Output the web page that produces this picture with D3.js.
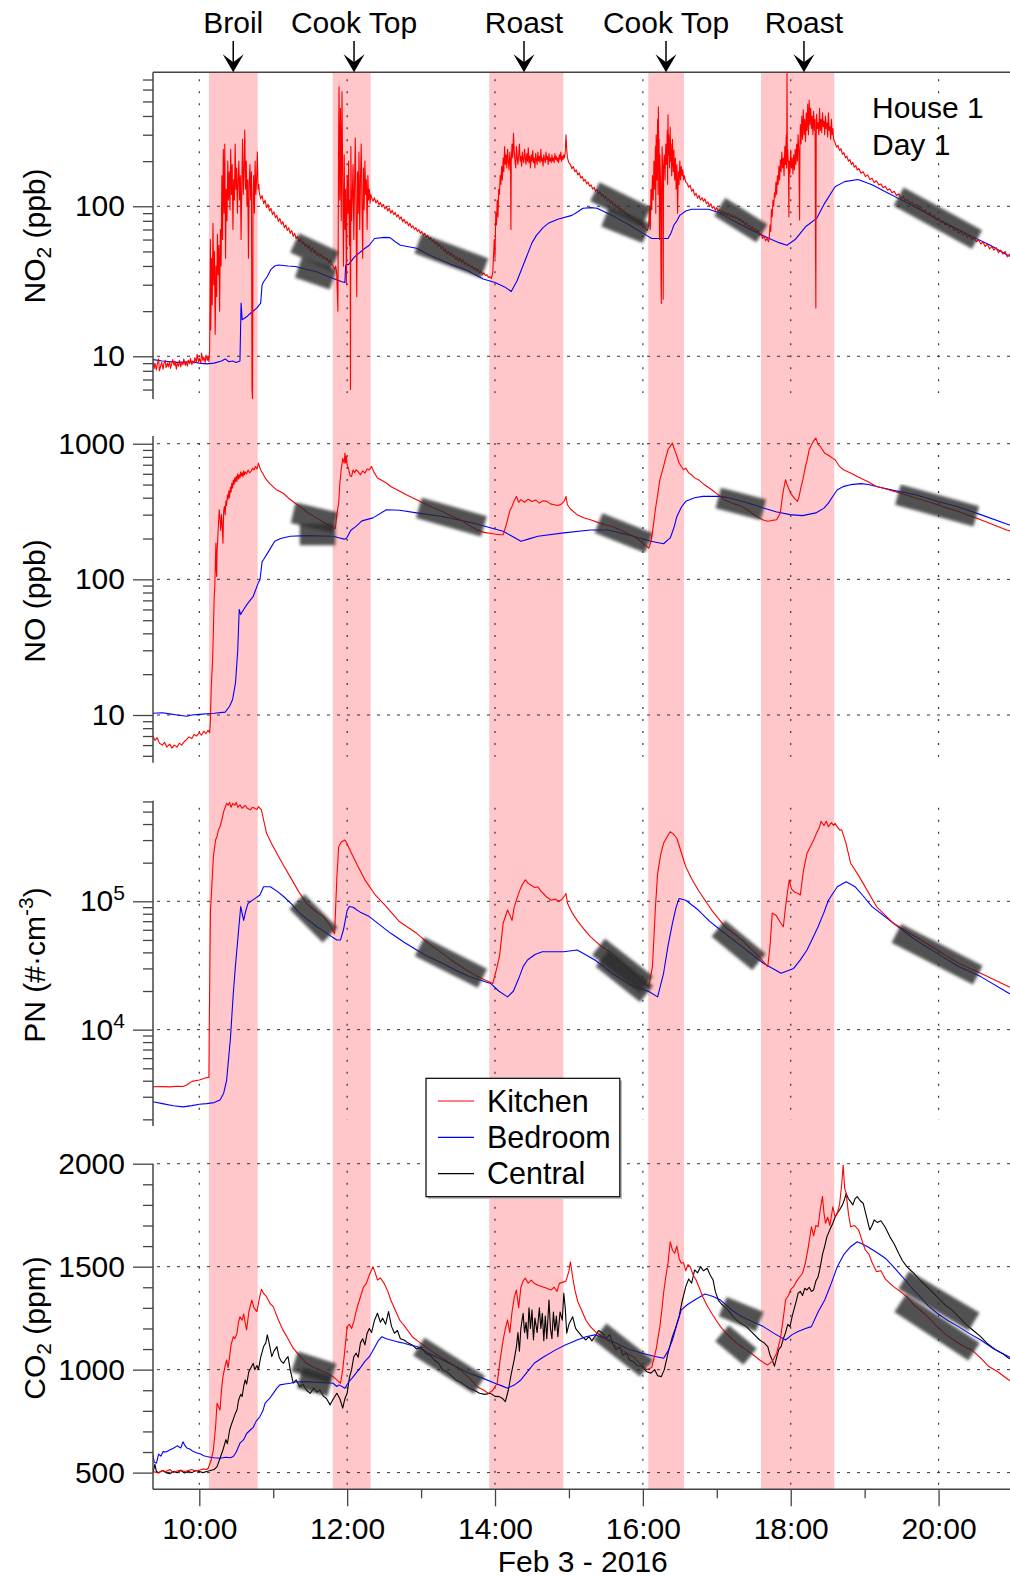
<!DOCTYPE html>
<html><head><meta charset="utf-8">
<script src="https://cdn.jsdelivr.net/npm/d3@7"></script>
<style>
body{margin:0;background:#fff;}
svg text{font-family:"Liberation Sans",Arial,Helvetica,sans-serif;fill:#000;}
</style></head><body>
<svg id="chart" width="1010" height="1578"></svg>
<script>
// ---------------- DATA ----------------
const timeDomain = [9.3737, 21];
const hourTicks = [10, 12, 14, 16, 18, 20];
const hourLabels = ["10:00", "12:00", "14:00", "16:00", "18:00", "20:00"];
const hourMinorTicks = [11, 13, 15, 17, 19];
const dateLabel = "Feb 3 - 2016";

const cookBands = [[10.131, 10.79], [11.804, 12.318], [13.923, 14.924], [16.073, 16.556], [17.598, 18.589]];
const eventLabels = ["Broil", "Cook Top", "Roast", "Cook Top", "Roast"];
const eventArrows = [10.459, 12.093, 14.392, 16.313, 18.179];

const seriesNames = ["Kitchen", "Bedroom", "Central"];
const seriesColors = ["#ff0000", "#0000ff", "#000000"];

const no2Ticks = [10, 100];
const noTicks = [10, 100, 1000];
const pnTicks = [10000, 100000];
const pnTickLabels = [["10", "4"], ["10", "5"]];
const co2Ticks = [500, 1000, 1500, 2000];

// NO2 (ppb)
const no2Kitchen = [[9.374,9.2],[9.39,8.3],[9.40,9.0],[9.42,8.1],[9.43,8.8],[9.45,9.6],[9.46,8.0],[9.48,8.7],[9.49,9.1],[9.51,8.2],[9.52,8.9],[9.54,9.4],[9.55,8.4],[9.57,9.0],[9.58,8.5],[9.60,9.2],[9.61,8.3],[9.63,9.0],[9.64,9.5],[9.66,8.7],[9.67,9.3],[9.69,8.2],[9.70,9.0],[9.72,8.6],[9.73,9.4],[9.75,8.5],[9.76,9.1],[9.78,8.8],[9.79,9.6],[9.81,8.7],[9.82,9.2],[9.84,8.6],[9.85,9.4],[9.87,8.9],[9.88,9.7],[9.90,8.8],[9.91,9.3],[9.93,9.0],[9.94,9.8],[9.96,9.1],[9.97,10.3],[9.99,9.2],[10.00,9.7],[10.02,9.0],[10.03,10.5],[10.05,9.3],[10.06,9.9],[10.08,9.1],[10.09,10.2],[10.11,9.4],[10.12,10.0],[10.13,9.2],
[10.140,11],[10.150,60],[10.155,15],[10.165,45],[10.175,22],[10.185,77],[10.195,30],[10.205,50],[10.215,14],[10.225,40],[10.235,25],[10.245,65],[10.255,35],[10.265,55],[10.275,20],[10.285,70],[10.295,40],[10.305,160],[10.315,60],[10.325,240],[10.335,90],[10.345,260],[10.355,45],[10.365,130],[10.375,80],[10.385,200],[10.395,110],[10.405,170],[10.415,95],[10.425,240],[10.435,120],[10.445,190],[10.455,70],[10.465,150],[10.475,110],[10.485,260],[10.495,130],[10.505,180],[10.515,90],[10.525,150],[10.535,200],[10.545,110],[10.555,160],[10.565,60],[10.575,140],[10.585,280],[10.595,120],[10.605,170],[10.615,322],[10.625,130],[10.635,200],[10.645,100],[10.655,150],[10.665,45],[10.675,140],[10.685,190],[10.695,110],[10.705,170],[10.713,6],[10.72,5.2],[10.727,120],[10.735,160],[10.745,90],[10.755,200],[10.765,120],[10.775,150],[10.785,230],[10.795,130],[10.805,140],
[10.81,125],[10.83,112],[10.85,118],[10.87,104],[10.89,110],[10.91,98],[10.93,103],[10.95,93],[10.97,97],[10.99,88],[11.01,92],[11.03,84],[11.05,87],[11.07,79],[11.09,83],[11.11,76],[11.13,79],[11.15,72],[11.17,75],[11.19,69],[11.21,72],[11.23,66],[11.25,69],[11.27,63],[11.29,66],[11.31,61],[11.33,63],[11.35,58],[11.37,61],[11.39,56],[11.41,58],[11.43,54],[11.45,56],[11.47,52],[11.49,55],[11.51,50],[11.53,53],[11.55,49],[11.57,51],[11.59,47],[11.61,49],[11.63,46],[11.65,48],[11.67,45],[11.69,46],[11.71,44],[11.73,45],[11.75,42],[11.77,44],[11.79,41],[11.81,40],[11.83,38],[11.845,40],[11.86,35],[11.875,20],
[11.885,300],[11.89,627],[11.90,110],[11.91,450],[11.92,80],[11.93,580],[11.94,150],[11.95,40],[11.96,220],[11.97,70],[11.98,130],[11.99,30],[12.00,160],[12.01,90],[12.02,200],[12.03,55],[12.04,110],[12.045,6],[12.05,250],[12.06,80],[12.07,120],[12.08,190],[12.09,60],[12.10,140],[12.11,285],[12.12,100],[12.13,25],[12.14,170],[12.15,90],[12.16,230],[12.17,70],[12.18,150],[12.19,260],[12.20,110],[12.21,45],[12.22,180],[12.23,95],[12.24,200],[12.25,120],[12.26,150],[12.27,70],[12.28,160],[12.29,110],[12.30,130],[12.31,105],[12.32,120],
[12.33,115],[12.35,108],[12.37,114],[12.39,105],[12.41,110],[12.43,102],[12.45,106],[12.47,99],[12.49,103],[12.51,96],[12.53,100],[12.55,93],[12.57,97],[12.59,90],[12.61,94],[12.63,88],[12.65,91],[12.67,85],[12.69,88],[12.71,82],[12.73,85],[12.75,79],[12.77,82],[12.79,77],[12.81,79],[12.83,74],[12.85,77],[12.87,72],[12.89,74],[12.91,70],[12.93,72],[12.95,68],[12.97,70],[12.99,66],[13.01,68],[13.03,64],[13.05,66],[13.07,62],[13.09,64],[13.11,60],[13.13,62],[13.15,58],[13.17,60],[13.19,56],[13.21,58],[13.23,54],[13.25,56],[13.27,52],[13.29,54],[13.31,50],[13.33,52],[13.35,48],[13.37,50],[13.39,47],[13.41,49],[13.43,46],[13.45,47],[13.47,44],[13.49,46],[13.51,43],[13.53,45],[13.55,42],[13.57,44],[13.59,41],[13.61,42],[13.63,40],[13.65,41],[13.67,39],[13.69,40],[13.71,38],[13.73,39],[13.75,37],[13.77,38],[13.79,36],[13.81,37],[13.83,35],[13.85,36],[13.87,34.5],[13.89,35],[13.91,33.5],[13.93,34],[13.95,33],
[13.97,36],[13.99,60],[14.00,45],[14.01,90],[14.02,75],[14.03,110],[14.04,85],[14.05,130],[14.06,120],[14.07,160],[14.08,140],[14.09,185],[14.10,150],[14.11,210],[14.12,170],[14.13,250],[14.14,190],[14.15,220],[14.16,180],[14.17,240],[14.18,200],[14.19,175],[14.20,230],[14.21,190],[14.215,70],[14.22,200],[14.23,260],[14.24,210],[14.25,306],[14.26,235],[14.27,200],[14.28,180],[14.29,250],[14.30,210],[14.31,190],[14.32,220],[14.33,260],[14.34,200],[14.35,215],[14.36,185],[14.37,230],[14.38,205],[14.39,195],[14.40,240],[14.41,210],[14.42,190],[14.43,225],[14.44,200],[14.45,245],[14.46,195],[14.47,215],[14.48,180],[14.49,220],[14.50,200],[14.51,235],[14.52,195],[14.53,210],[14.54,180],[14.55,225],[14.56,205],[14.57,190],[14.58,230],[14.59,200],[14.60,215],[14.61,195],[14.62,240],[14.63,200],[14.64,210],[14.65,185],[14.66,220],[14.67,205],[14.68,195],[14.69,230],[14.70,205],[14.71,215],[14.72,190],[14.73,225],[14.74,200],[14.75,210],[14.76,195],[14.77,220],[14.78,200],[14.79,210],[14.80,195],[14.81,225],[14.82,205],[14.83,215],[14.84,200],[14.85,210],[14.86,195],[14.87,220],[14.88,205],[14.89,230],[14.90,200],[14.91,215],[14.92,205],[14.93,220],[14.94,210],[14.95,230],[14.96,300],[14.97,240],[14.98,210],[15.00,195],
[15.02,190],[15.04,178],[15.06,184],[15.08,170],[15.10,175],[15.12,162],[15.14,167],[15.16,154],[15.18,158],[15.20,147],[15.22,151],[15.24,141],[15.26,145],[15.28,136],[15.30,139],[15.32,130],[15.34,134],[15.36,126],[15.38,129],[15.40,121],[15.42,125],[15.44,117],[15.46,120],[15.48,113],[15.50,116],[15.52,109],[15.54,112],[15.56,105],[15.58,108],[15.60,101],[15.62,104],[15.64,98],[15.66,100],[15.68,95],[15.70,97],[15.72,92],[15.74,94],[15.76,89],[15.78,91],[15.80,86],[15.82,88],[15.84,83],[15.86,85],[15.88,80],[15.90,82],[15.92,78],[15.94,79],[15.96,75],[15.98,77],[16.00,72],[16.02,74],[16.04,70],[16.06,69],
[16.08,75],[16.09,100],[16.10,70],[16.11,130],[16.12,95],[16.13,160],[16.14,110],[16.15,200],[16.16,130],[16.17,250],[16.175,90],[16.18,300],[16.19,150],[16.20,380],[16.205,120],[16.21,460],[16.215,200],[16.22,280],[16.225,60],[16.23,220],[16.24,140],[16.245,35],[16.25,22.5],[16.255,120],[16.26,250],[16.27,160],[16.275,24],[16.28,180],[16.29,220],[16.30,150],[16.31,260],[16.32,190],[16.33,320],[16.335,140],[16.34,407],[16.345,220],[16.35,300],[16.36,180],[16.37,337],[16.375,200],[16.38,260],[16.39,160],[16.40,280],[16.41,170],[16.42,237],[16.43,150],[16.44,210],[16.45,130],[16.46,190],[16.47,90],[16.48,170],[16.49,140],[16.50,200],[16.51,150],[16.52,185],[16.53,160],[16.54,175],[16.55,150],[16.56,160],[16.58,145],
[16.60,142],[16.62,134],[16.64,138],[16.66,126],[16.68,130],[16.70,118],[16.72,122],[16.74,113],[16.76,118],[16.78,110],[16.80,114],[16.82,108],[16.84,112],[16.86,104],[16.88,107],[16.90,100],[16.92,104],[16.94,97],[16.96,100],[16.98,94],[17.00,98],[17.02,92],[17.04,95],[17.06,90],[17.08,93],[17.10,88],[17.12,91],[17.14,87],[17.16,90],[17.18,85],[17.20,88],[17.22,84],[17.24,87],[17.26,82],[17.28,85],[17.30,80],[17.32,83],[17.34,78],[17.36,80],[17.38,75],[17.40,78],[17.42,73],[17.44,75],[17.46,71],[17.48,73],[17.50,69],[17.52,71],[17.54,67],[17.56,69],[17.58,64],[17.60,66],[17.62,61],[17.64,63],[17.66,59],[17.68,61],[17.70,58],
[17.71,62],[17.72,75],[17.73,68],[17.74,95],[17.75,85],[17.76,110],[17.77,100],[17.78,123],[17.79,115],[17.80,145],[17.81,120],[17.82,160],[17.83,140],[17.84,185],[17.85,150],[17.86,204],[17.87,170],[17.88,230],[17.89,180],[17.90,210],[17.91,160],[17.92,250],[17.93,190],[17.94,300],[17.945,180],[17.95,780],[17.955,200],[17.96,240],[17.97,170],[17.975,85],[17.98,200],[17.99,165],[18.00,237],[18.01,180],[18.02,210],[18.03,164],[18.04,220],[18.05,175],[18.06,240],[18.07,190],[18.08,260],[18.09,200],[18.10,300],[18.11,230],[18.12,81],[18.125,250],[18.13,350],[18.14,260],[18.15,400],[18.16,280],[18.17,439],[18.18,300],[18.19,380],[18.20,270],[18.21,420],[18.22,320],[18.23,480],[18.24,300],[18.25,510],[18.26,350],[18.27,450],[18.28,330],[18.29,400],[18.30,300],[18.31,430],[18.32,320],[18.33,380],[18.335,60],[18.34,21],[18.345,290],[18.35,410],[18.36,330],[18.37,360],[18.38,300],[18.39,450],[18.40,320],[18.41,380],[18.42,310],[18.43,420],[18.44,340],[18.45,370],[18.46,300],[18.47,400],[18.48,330],[18.49,360],[18.50,290],[18.51,420],[18.52,320],[18.53,340],[18.54,280],[18.55,380],[18.56,300],[18.57,330],[18.58,280],
[18.60,265],[18.62,248],[18.64,255],[18.66,236],[18.68,242],[18.70,222],[18.72,228],[18.74,210],[18.76,216],[18.78,200],[18.80,205],[18.82,190],[18.84,196],[18.86,182],[18.88,187],[18.90,174],[18.92,179],[18.95,166],[18.98,170],[19.01,158],[19.04,162],[19.07,151],[19.10,154],[19.13,144],[19.16,148],[19.19,139],[19.22,141],[19.25,133],[19.28,136],[19.31,128],[19.34,131],[19.37,123],[19.40,126],[19.43,118],[19.46,121],[19.49,113],[19.52,116],[19.55,109],[19.58,111],[19.61,104],[19.64,107],[19.67,100],[19.70,103],[19.73,96],[19.76,99],[19.79,92],[19.82,95],[19.85,88],[19.88,91],[19.91,85],[19.94,87],[19.97,81],[20.00,84],[20.03,78],[20.06,80],[20.09,75],[20.12,77],[20.15,72],[20.18,74],[20.21,69],[20.24,71],[20.27,66],[20.30,68],[20.33,64],[20.36,66],[20.39,62],[20.42,64],[20.45,60],[20.48,62],[20.51,58],[20.54,60],[20.57,56],[20.60,58],[20.63,54],[20.66,56],[20.69,52],[20.72,54],[20.75,51],[20.78,53],[20.81,49],[20.84,51],[20.87,48],[20.90,50],[20.93,46],[20.96,48],[21.00,46]];

const no2Bedroom = [[9.374,9.5],[9.5,9.3],[9.7,9.1],[9.9,9.2],[10.0,9.0],[10.1,8.9],[10.2,9.0],[10.3,9.3],[10.35,9.6],[10.4,9.2],[10.45,9.3],[10.5,9.1],[10.55,9.3],[10.565,22.6],[10.58,17.5],[10.65,18.5],[10.70,19.5],[10.78,21],[10.83,22.6],[10.85,30],[10.87,31.4],[10.92,34],[10.97,38],[11.02,40],[11.07,40.6],[11.2,40],[11.3,39.7],[11.5,37.5],[11.6,36.5],[11.74,34],[11.85,32.5],[11.93,31.4],[11.97,31],[11.98,40.6],[12.02,41],[12.1,46],[12.24,52.5],[12.3,55],[12.37,61],[12.5,62],[12.58,61.8],[12.65,58],[12.72,55],[12.94,52.5],[13.16,46],[13.4,41],[13.62,37.5],[13.84,32.7],[14.0,31],[14.13,29],[14.22,27],[14.3,32],[14.41,44],[14.5,57],[14.56,64],[14.65,72],[14.72,77],[14.85,82],[15.04,87],[15.12,92],[15.19,97],[15.3,98],[15.38,97],[15.5,91],[15.62,85],[15.8,76],[15.94,69],[16.05,64],[16.12,61],[16.34,61],[16.38,66],[16.42,75],[16.46,80],[16.5,87],[16.58,93],[16.66,95.5],[16.89,95.5],[17.02,91],[17.15,84],[17.29,77],[17.45,70],[17.56,66],[17.74,60],[17.85,57],[17.95,55],[18.06,60],[18.2,73],[18.35,83],[18.46,105],[18.6,135],[18.73,146],[18.91,151],[19.1,139],[19.32,122],[19.55,107],[19.78,93],[20.0,81],[20.22,72],[20.45,63],[20.7,55],[20.94,47],[21.0,46]];

// NO (ppb)
const noKitchen = [[9.374,7.0],[9.40,6.5],[9.43,6.8],[9.46,6.2],[9.50,6.0],[9.53,6.3],[9.56,5.8],[9.60,6.1],[9.63,5.7],[9.66,6.0],[9.70,5.8],[9.73,6.2],[9.76,6.0],[9.80,6.4],[9.83,6.6],[9.86,6.9],[9.90,6.7],[9.93,7.2],[9.96,7.0],[10.0,7.4],[10.03,7.1],[10.06,7.6],[10.09,7.3],[10.12,7.7],[10.14,7.4],[10.15,9],[10.16,15],[10.17,20],[10.18,25.6],[10.19,40],[10.2,70],[10.21,90],[10.22,150],[10.225,185],[10.23,120],[10.235,105],[10.24,160],[10.25,200],[10.26,260],[10.27,326],[10.28,280],[10.29,230],[10.30,300],[10.31,250],[10.32,185],[10.33,320],[10.34,345],[10.35,300],[10.36,380],[10.37,350],[10.38,420],[10.39,390],[10.40,450],[10.41,400],[10.42,480],[10.43,440],[10.44,512],[10.45,470],[10.46,540],[10.47,500],[10.48,560],[10.49,520],[10.50,574],[10.51,530],[10.52,600],[10.53,550],[10.54,590],[10.55,560],[10.56,620],[10.57,580],[10.58,610],[10.59,570],[10.60,630],[10.61,590],[10.62,620],[10.64,600],[10.66,640],[10.68,610],[10.70,625],[10.72,660],[10.74,640],[10.76,680],[10.78,650],[10.80,720],[10.81,690],[10.83,640],[10.86,600],[10.9,550],[10.95,510],[11.0,480],[11.05,455],[11.13,433],[11.2,400],[11.28,370],[11.36,345],[11.45,315],[11.58,284],[11.7,260],[11.81,240],[11.84,237],[11.86,300],[11.885,365],[11.9,500],[11.92,650],[11.94,780],[11.96,720],[11.97,852],[11.98,720],[11.99,808],[12.0,700],[12.02,650],[12.04,580],[12.06,574],[12.08,640],[12.10,610],[12.12,643],[12.15,620],[12.18,590],[12.21,630],[12.24,608],[12.27,650],[12.30,640],[12.33,680],[12.36,620],[12.41,559],[12.46,540],[12.53,513],[12.6,480],[12.7,450],[12.8,420],[12.94,387],[13.1,350],[13.29,316],[13.4,295],[13.53,275],[13.65,250],[13.76,231],[13.85,222],[13.95,218],[14.05,213],[14.11,213],[14.14,240],[14.17,275],[14.2,320],[14.23,345],[14.26,380],[14.29,409],[14.32,370],[14.35,387],[14.4,370],[14.45,390],[14.5,375],[14.55,385],[14.6,365],[14.65,380],[14.70,376],[14.75,360],[14.8,355],[14.85,350],[14.9,360],[14.94,380],[14.96,409],[14.98,355],[15.02,330],[15.11,300],[15.2,285],[15.29,275],[15.4,262],[15.5,252],[15.58,246],[15.7,230],[15.8,218],[15.87,208],[15.95,195],[16.02,180],[16.08,170],[16.11,190],[16.14,246],[16.17,330],[16.2,420],[16.23,543],[16.26,620],[16.28,680],[16.31,790],[16.34,903],[16.37,960],[16.40,1010],[16.42,930],[16.44,870],[16.46,808],[16.49,720],[16.52,680],[16.55,643],[16.58,661],[16.62,610],[16.66,590],[16.70,560],[16.75,543],[16.83,500],[16.93,458],[17.02,420],[17.10,387],[17.2,365],[17.34,345],[17.45,315],[17.54,291],[17.62,275],[17.69,268],[17.75,272],[17.81,275],[17.86,310],[17.88,380],[17.9,450],[17.93,543],[17.95,500],[17.98,458],[18.0,430],[18.03,409],[18.06,390],[18.09,376],[18.11,400],[18.14,480],[18.17,560],[18.2,680],[18.22,750],[18.25,903],[18.28,980],[18.31,1050],[18.34,1100],[18.37,990],[18.40,955],[18.43,900],[18.46,852],[18.5,830],[18.53,808],[18.57,780],[18.6,762],[18.63,720],[18.66,680],[18.72,640],[18.81,608],[18.92,565],[19.04,527],[19.16,484],[19.28,465],[19.39,446],[19.55,420],[19.69,398],[19.85,375],[19.98,355],[20.12,335],[20.27,316],[20.42,295],[20.57,275],[20.75,252],[20.92,231],[21.0,225]];

const noBedroom = [[9.374,10.3],[9.5,10.4],[9.6,10.2],[9.7,10.0],[9.83,9.8],[9.9,10.0],[10.0,10.1],[10.2,10.3],[10.35,10.5],[10.41,11.6],[10.45,13],[10.49,17.3],[10.52,30],[10.54,60],[10.56,55],[10.6,60],[10.65,66],[10.73,75],[10.8,95],[10.82,99],[10.85,135],[10.87,140],[10.95,165],[11.02,191],[11.1,200],[11.23,208],[11.45,210],[11.81,208],[11.9,202],[11.96,198],[11.99,200],[12.05,230],[12.12,246],[12.2,270],[12.35,284],[12.53,326],[12.71,323],[12.94,309],[13.29,291],[13.7,260],[14.11,226],[14.25,205],[14.35,191],[14.45,198],[14.58,208],[14.93,220],[15.29,231],[15.52,231],[15.7,220],[15.87,208],[16.11,191],[16.28,183],[16.37,202],[16.42,240],[16.46,291],[16.52,340],[16.58,376],[16.7,400],[16.81,409],[17.05,409],[17.2,395],[17.34,376],[17.5,355],[17.63,336],[17.8,315],[17.99,300],[18.16,295],[18.34,309],[18.45,335],[18.51,365],[18.57,410],[18.63,458],[18.72,485],[18.81,499],[18.95,508],[19.05,500],[19.16,484],[19.39,453],[19.69,421],[19.98,376],[20.27,342],[20.57,300],[20.95,253],[21.0,248]];

// PN (#/cm3)
const pnKitchen = [[9.374,3590],[9.5,3600],[9.6,3580],[9.7,3620],[9.78,3610],[9.83,3700],[9.9,3950],[10.0,4050],[10.1,4230],[10.13,4250],[10.135,10700],[10.15,80600],[10.19,222000],[10.22,300000],[10.24,320000],[10.26,360000],[10.28,381000],[10.3,420000],[10.33,500000],[10.37,580000],[10.39,560000],[10.41,590000],[10.43,540000],[10.45,580000],[10.48,560000],[10.5,590000],[10.52,540000],[10.55,565000],[10.58,530000],[10.62,560000],[10.65,530000],[10.69,516000],[10.72,540000],[10.75,530000],[10.78,520000],[10.8,546000],[10.84,516000],[10.87,430000],[10.91,339000],[10.98,280000],[11.05,236000],[11.14,190000],[11.23,155000],[11.34,120000],[11.45,96500],[11.57,84000],[11.68,76000],[11.77,65000],[11.83,56000],[11.86,150000],[11.885,266000],[11.92,290000],[11.97,300000],[12.0,280000],[12.06,236000],[12.15,185000],[12.24,147000],[12.38,112000],[12.53,91000],[12.7,70000],[12.94,56300],[13.1,47000],[13.29,39300],[13.45,33500],[13.65,28300],[13.82,25000],[13.97,22900],[14.01,28000],[14.06,37000],[14.11,67400],[14.17,85500],[14.2,78000],[14.23,71000],[14.26,90000],[14.29,102000],[14.33,120000],[14.37,135000],[14.41,147000],[14.45,138000],[14.5,132000],[14.54,128000],[14.58,130000],[14.62,120000],[14.66,114000],[14.7,108000],[14.76,102000],[14.82,104000],[14.86,100000],[14.9,103000],[14.94,110000],[14.96,115000],[14.98,96500],[15.04,82000],[15.11,71000],[15.2,61000],[15.29,53000],[15.43,45000],[15.58,39300],[15.72,33000],[15.87,27500],[15.98,24000],[16.08,21600],[16.13,31000],[16.17,90000],[16.2,165000],[16.24,230000],[16.28,283000],[16.33,320000],[16.37,348000],[16.41,335000],[16.46,310000],[16.52,240000],[16.58,186000],[16.66,150000],[16.75,122000],[16.93,85500],[17.11,63400],[17.34,50000],[17.57,37000],[17.69,31000],[17.72,45000],[17.75,80600],[17.8,78000],[17.85,70000],[17.9,63400],[17.93,90000],[17.96,122000],[17.98,147000],[18.01,125000],[18.05,118000],[18.1,115000],[18.13,112000],[18.17,170000],[18.22,236000],[18.27,270000],[18.31,300000],[18.35,340000],[18.39,380000],[18.41,420000],[18.43,405000],[18.45,390000],[18.48,420000],[18.51,381000],[18.55,410000],[18.58,390000],[18.6,405000],[18.63,380000],[18.66,360000],[18.69,360000],[18.75,280000],[18.81,198000],[18.9,165000],[18.98,138000],[19.16,91000],[19.39,67400],[19.69,53000],[19.98,41700],[20.27,32900],[20.57,27500],[20.95,21600],[21.0,21000]];

const pnBedroom = [[9.374,2740],[9.5,2650],[9.65,2550],[9.78,2500],[9.9,2560],[10.0,2620],[10.1,2650],[10.2,2700],[10.28,2830],[10.33,3200],[10.37,4050],[10.42,8400],[10.46,19200],[10.49,32000],[10.52,50000],[10.56,91000],[10.6,71000],[10.63,85000],[10.66,96500],[10.75,105000],[10.82,112000],[10.87,130000],[10.96,130000],[11.05,120000],[11.14,109000],[11.25,95000],[11.36,80600],[11.48,71000],[11.59,63400],[11.75,55000],[11.86,50000],[11.91,50000],[11.95,60000],[12.0,85000],[12.03,91000],[12.08,90000],[12.18,82000],[12.3,76000],[12.45,65000],[12.59,56300],[12.77,48000],[12.94,41700],[13.1,37000],[13.29,32900],[13.47,29000],[13.65,25900],[13.94,22900],[14.05,20000],[14.17,18000],[14.25,20000],[14.32,25000],[14.38,31000],[14.44,34900],[14.54,38500],[14.64,40500],[14.93,40500],[15.11,41700],[15.22,38500],[15.35,34900],[15.47,31000],[15.58,27500],[15.72,24500],[15.87,21600],[16.08,19800],[16.2,18000],[16.28,27500],[16.34,45000],[16.4,67400],[16.45,90000],[16.49,105000],[16.58,102000],[16.75,85500],[16.9,70000],[17.05,59800],[17.34,44300],[17.63,32900],[17.87,27500],[18.04,30000],[18.13,35000],[18.22,41700],[18.3,52000],[18.37,63400],[18.45,82000],[18.51,102000],[18.63,130000],[18.75,142000],[18.87,130000],[18.98,110000],[19.1,91000],[19.39,67400],[19.69,50000],[19.98,39300],[20.27,31000],[20.57,25900],[20.95,19200],[21.0,18800]];

// CO2 (ppm)
const co2Kitchen = [[9.374,505],[9.45,498],[9.5,510],[9.55,505],[9.6,515],[9.65,500],[9.7,508],[9.75,512],[9.8,505],[9.85,510],[9.9,515],[9.95,508],[10.0,512],[10.05,518],[10.1,515],[10.12,521],[10.16,560],[10.19,610],[10.22,720],[10.24,837],[10.26,820],[10.28,804],[10.3,900],[10.32,966],[10.35,1020],[10.37,1047],[10.39,1010],[10.41,1063],[10.43,1120],[10.46,1160],[10.48,1150],[10.51,1177],[10.53,1230],[10.55,1257],[10.58,1240],[10.6,1270],[10.62,1230],[10.64,1193],[10.67,1280],[10.71,1338],[10.74,1300],[10.78,1282],[10.81,1340],[10.84,1390],[10.87,1370],[10.91,1354],[10.96,1320],[11.0,1306],[11.06,1250],[11.13,1193],[11.2,1150],[11.27,1104],[11.35,1070],[11.45,1031],[11.55,1010],[11.63,999],[11.72,985],[11.81,966],[11.86,950],[11.91,934],[11.94,1000],[11.97,1100],[12.0,1209],[12.03,1220],[12.06,1200],[12.09,1233],[12.12,1280],[12.15,1320],[12.18,1354],[12.22,1400],[12.26,1419],[12.3,1460],[12.35,1500],[12.38,1470],[12.41,1435],[12.45,1445],[12.5,1419],[12.55,1380],[12.59,1338],[12.65,1290],[12.71,1241],[12.8,1200],[12.88,1160],[12.97,1135],[13.06,1112],[13.18,1080],[13.29,1055],[13.4,1030],[13.53,999],[13.65,960],[13.76,917],[13.85,900],[13.91,885],[13.97,900],[14.03,934],[14.07,1050],[14.11,1144],[14.14,1200],[14.17,1241],[14.2,1180],[14.23,1280],[14.26,1350],[14.29,1387],[14.32,1300],[14.35,1400],[14.38,1430],[14.41,1444],[14.45,1420],[14.49,1435],[14.53,1419],[14.58,1410],[14.64,1403],[14.7,1395],[14.76,1387],[14.8,1400],[14.84,1380],[14.87,1419],[14.92,1425],[14.96,1430],[15.0,1480],[15.02,1524],[15.05,1450],[15.08,1387],[15.12,1330],[15.17,1290],[15.23,1240],[15.29,1209],[15.37,1180],[15.46,1160],[15.55,1135],[15.64,1112],[15.76,1085],[15.87,1063],[15.96,1030],[16.05,999],[16.12,1010],[16.18,1100],[16.23,1209],[16.26,1300],[16.28,1371],[16.31,1450],[16.34,1517],[16.37,1621],[16.40,1580],[16.43,1565],[16.46,1600],[16.49,1540],[16.52,1517],[16.55,1520],[16.58,1480],[16.61,1510],[16.64,1500],[16.68,1460],[16.72,1435],[16.76,1400],[16.81,1354],[16.87,1310],[16.93,1274],[17.0,1235],[17.05,1209],[17.13,1175],[17.22,1144],[17.3,1120],[17.4,1096],[17.5,1070],[17.58,1047],[17.65,1030],[17.69,1023],[17.75,1040],[17.81,1080],[17.86,1150],[17.9,1250],[17.93,1338],[17.97,1360],[18.0,1390],[18.04,1403],[18.08,1430],[18.12,1450],[18.16,1468],[18.2,1520],[18.24,1600],[18.28,1694],[18.31,1650],[18.34,1700],[18.37,1694],[18.4,1780],[18.43,1840],[18.45,1760],[18.47,1711],[18.5,1740],[18.53,1700],[18.57,1791],[18.6,1740],[18.63,1760],[18.66,1800],[18.69,1900],[18.71,1994],[18.73,1880],[18.75,1856],[18.78,1760],[18.81,1694],[18.86,1700],[18.92,1678],[18.97,1620],[19.01,1581],[19.06,1560],[19.1,1520],[19.16,1476],[19.22,1480],[19.28,1440],[19.39,1403],[19.48,1380],[19.57,1354],[19.68,1310],[19.8,1274],[19.9,1240],[19.98,1209],[20.1,1170],[20.27,1128],[20.36,1110],[20.45,1096],[20.56,1060],[20.68,1015],[20.8,990],[20.95,950],[21.0,940]];

const co2Bedroom = [[9.374,586],[9.39,550],[9.42,546],[9.45,590],[9.48,580],[9.51,602],[9.55,600],[9.6,610],[9.65,618],[9.7,630],[9.75,620],[9.78,650],[9.8,635],[9.83,620],[9.87,615],[9.92,602],[9.97,595],[10.02,590],[10.06,582],[10.1,578],[10.15,575],[10.2,572],[10.28,570],[10.36,575],[10.42,572],[10.46,578],[10.5,600],[10.55,643],[10.6,660],[10.64,690],[10.69,707],[10.73,720],[10.77,750],[10.82,772],[10.86,800],[10.89,837],[10.95,860],[11.0,885],[11.05,910],[11.09,926],[11.16,930],[11.23,934],[11.3,940],[11.45,942],[11.6,938],[11.75,936],[11.81,934],[11.86,918],[11.89,926],[11.97,910],[12.02,940],[12.07,960],[12.12,983],[12.18,1010],[12.24,1040],[12.3,1063],[12.36,1100],[12.42,1140],[12.47,1160],[12.53,1150],[12.59,1144],[12.68,1135],[12.77,1128],[12.85,1120],[12.94,1112],[13.1,1080],[13.29,1047],[13.47,1015],[13.65,983],[13.82,960],[14.0,934],[14.1,920],[14.17,910],[14.26,925],[14.35,950],[14.44,990],[14.53,1031],[14.65,1060],[14.82,1096],[14.95,1120],[15.11,1144],[15.23,1160],[15.35,1169],[15.5,1150],[15.64,1128],[15.8,1100],[15.99,1080],[16.15,1065],[16.28,1055],[16.34,1090],[16.4,1144],[16.46,1220],[16.52,1290],[16.6,1315],[16.7,1338],[16.84,1367],[16.95,1355],[17.05,1338],[17.2,1290],[17.34,1257],[17.5,1230],[17.63,1209],[17.78,1175],[17.93,1144],[18.02,1170],[18.1,1185],[18.2,1200],[18.28,1209],[18.37,1280],[18.46,1338],[18.55,1420],[18.63,1500],[18.72,1560],[18.81,1597],[18.9,1621],[18.97,1610],[19.04,1597],[19.16,1570],[19.28,1541],[19.4,1495],[19.51,1451],[19.63,1400],[19.75,1354],[19.86,1310],[19.98,1274],[20.12,1240],[20.27,1209],[20.42,1175],[20.57,1144],[20.75,1100],[20.95,1063],[21.0,1055]];

const co2Central = [[9.374,500],[9.4,540],[9.42,505],[9.45,500],[9.5,510],[9.55,500],[9.6,495],[9.65,505],[9.7,500],[9.75,510],[9.8,498],[9.85,505],[9.9,500],[9.95,510],[10.0,505],[10.05,500],[10.1,505],[10.15,510],[10.2,515],[10.24,529],[10.28,570],[10.32,610],[10.36,660],[10.38,640],[10.41,707],[10.44,740],[10.46,760],[10.49,790],[10.51,804],[10.53,850],[10.56,880],[10.58,870],[10.6,917],[10.62,950],[10.64,930],[10.67,990],[10.7,1010],[10.73,1031],[10.75,1000],[10.78,1020],[10.8,1000],[10.83,1060],[10.87,1112],[10.9,1130],[10.92,1169],[10.95,1120],[10.98,1063],[11.01,1090],[11.05,1112],[11.08,1060],[11.11,1040],[11.14,1031],[11.17,1050],[11.2,1063],[11.23,1000],[11.27,934],[11.31,950],[11.36,917],[11.4,930],[11.45,900],[11.5,885],[11.55,910],[11.59,890],[11.63,901],[11.68,870],[11.72,860],[11.77,829],[11.8,850],[11.86,885],[11.9,860],[11.94,813],[11.97,860],[12.0,885],[12.03,960],[12.06,1000],[12.09,1063],[12.12,1080],[12.15,1060],[12.18,1130],[12.21,1150],[12.24,1120],[12.27,1177],[12.3,1200],[12.33,1180],[12.37,1240],[12.41,1274],[12.45,1230],[12.48,1250],[12.52,1220],[12.56,1282],[12.6,1210],[12.64,1177],[12.68,1190],[12.72,1150],[12.77,1144],[12.82,1130],[12.88,1120],[12.94,1100],[13.0,1110],[13.06,1080],[13.12,1070],[13.18,1047],[13.24,1030],[13.29,999],[13.35,990],[13.41,970],[13.47,950],[13.53,940],[13.59,925],[13.65,910],[13.72,900],[13.79,885],[13.86,880],[13.94,885],[14.0,870],[14.06,869],[14.1,860],[14.14,845],[14.18,900],[14.22,980],[14.26,1050],[14.29,1112],[14.31,1180],[14.33,1090],[14.35,1200],[14.38,1274],[14.4,1180],[14.42,1230],[14.44,1150],[14.46,1300],[14.48,1200],[14.5,1290],[14.52,1144],[14.54,1250],[14.57,1180],[14.6,1300],[14.62,1200],[14.64,1274],[14.66,1140],[14.68,1260],[14.7,1150],[14.73,1338],[14.75,1200],[14.77,1150],[14.79,1280],[14.81,1190],[14.83,1260],[14.85,1160],[14.88,1280],[14.91,1240],[14.93,1371],[14.95,1300],[14.97,1177],[15.0,1220],[15.05,1257],[15.09,1200],[15.14,1177],[15.18,1160],[15.23,1144],[15.27,1160],[15.31,1140],[15.35,1160],[15.4,1190],[15.46,1177],[15.5,1150],[15.55,1170],[15.6,1120],[15.64,1096],[15.69,1110],[15.73,1070],[15.78,1080],[15.82,1047],[15.87,1040],[15.92,1020],[15.99,1015],[16.05,990],[16.11,983],[16.16,1000],[16.2,970],[16.25,966],[16.29,1000],[16.34,1080],[16.37,1120],[16.4,1160],[16.44,1200],[16.49,1257],[16.53,1330],[16.58,1403],[16.62,1440],[16.66,1420],[16.7,1484],[16.74,1470],[16.78,1500],[16.82,1480],[16.87,1492],[16.91,1460],[16.95,1435],[16.98,1380],[17.02,1338],[17.06,1320],[17.1,1306],[17.15,1290],[17.22,1257],[17.3,1230],[17.4,1209],[17.48,1180],[17.58,1144],[17.64,1130],[17.69,1112],[17.72,1070],[17.75,1047],[17.78,1017],[17.81,1060],[17.84,1100],[17.87,1112],[17.9,1150],[17.93,1180],[17.96,1220],[17.99,1209],[18.02,1260],[18.05,1300],[18.08,1340],[18.1,1371],[18.13,1380],[18.16,1360],[18.19,1395],[18.22,1387],[18.25,1400],[18.28,1380],[18.31,1387],[18.34,1430],[18.37,1450],[18.4,1500],[18.43,1560],[18.46,1600],[18.49,1646],[18.53,1680],[18.57,1711],[18.6,1740],[18.63,1760],[18.66,1775],[18.7,1800],[18.73,1830],[18.75,1856],[18.78,1830],[18.81,1816],[18.84,1800],[18.87,1830],[18.9,1840],[18.94,1820],[18.98,1808],[19.02,1750],[19.07,1678],[19.1,1700],[19.13,1727],[19.17,1715],[19.22,1723],[19.28,1690],[19.34,1646],[19.4,1610],[19.46,1565],[19.51,1530],[19.57,1500],[19.66,1470],[19.75,1435],[19.85,1400],[19.98,1354],[20.1,1310],[20.18,1290],[20.27,1257],[20.37,1220],[20.47,1190],[20.57,1160],[20.65,1130],[20.72,1110],[20.8,1090],[20.88,1075],[20.95,1055],[21.0,1050]];

// Decay-fit bands [t0, v0, t1, v1]
const no2Fits = [[11.29,57,11.83,43],[11.34,39,11.81,32.5],[12.96,56.6,13.86,38.6],[15.35,125,16.05,85],[15.49,85,16.05,66],[17.04,99,17.61,66],[19.46,116,20.52,60]];
const noFits = [[11.27,310,11.84,262],[11.36,213,11.84,213],[12.97,336,13.85,246],[15.40,260,16.08,185],[17.02,398,17.63,326],[19.45,421,20.51,291]];
const pnFits = [[11.32,99300,11.77,54600],[12.98,44300,13.83,25100],[15.40,44000,16.05,22500],[15.45,36000,16.05,19000],[17.02,61600,17.57,33700],[19.43,56300,20.53,26600]];
const co2Fits = [[11.29,1040,11.81,980],[11.36,960,11.77,920],[12.97,1112,13.79,926],[15.42,1184,16.05,1007],[17.08,1306,17.58,1233],[17.07,1177,17.45,1063],[19.53,1435,20.48,1233],[19.48,1322,20.48,1087]];

// ---------------- CHART ----------------
const FS = 30;
const svg = d3.select("#chart");
const X0 = 153, X1 = 1012.5, TOP = 72.3, BOTTOM = 1489.3;
const x = d3.scaleLinear().domain(timeDomain).range([X0, X1]);

const defs = svg.append("defs");
defs.append("filter").attr("id", "soft").attr("x", "-20%").attr("y", "-20%").attr("width", "140%").attr("height", "140%")
  .append("feGaussianBlur").attr("stdDeviation", 1.4);

// cooking bands
svg.append("g").selectAll("rect").data(cookBands).join("rect")
  .attr("x", d => x(d[0])).attr("width", d => x(d[1]) - x(d[0]))
  .attr("y", TOP).attr("height", BOTTOM - TOP)
  .attr("fill", "#ffc7ca");

const panels = [
  {y: d3.scaleLog().domain([5.19, 782]).range([399, 72.3]), ticks: no2Ticks, series: [no2Kitchen, no2Bedroom], fits: no2Fits, label: [["NO",0],["2",1],[" (ppb)",3]], labelY: 236},
  {y: d3.scaleLog().domain([4.45, 1140]).range([762.7, 436]), ticks: noTicks, series: [noKitchen, noBedroom], fits: noFits, label: [["NO (ppb)",0]], labelY: 601},
  {y: d3.scaleLog().domain([1775, 608000]).range([1126, 800.7]), ticks: pnTicks, tickLabels: pnTickLabels, series: [pnKitchen, pnBedroom], fits: pnFits, label: [["PN (#·cm",0],["-3",2],[")",4]], labelY: 965},
  {y: d3.scaleLinear().domain([419, 2000]).range([1489.3, 1163.7]), ticks: co2Ticks, series: [co2Kitchen, co2Bedroom, co2Central], fits: co2Fits, label: [["CO",0],["2",1],[" (ppm)",3]], labelY: 1328, linear: true}
];

panels.forEach((p, i) => {
  const [yb, yt] = p.y.range();
  const g = svg.append("g");
  g.append("g").selectAll("line").data(p.ticks).join("line")
    .attr("x1", X0 + 4).attr("x2", X1).attr("y1", d => p.y(d)).attr("y2", d => p.y(d))
    .attr("stroke", "#333").attr("stroke-width", 1).attr("stroke-dasharray", "3,7");
  g.append("g").selectAll("line").data(hourTicks).join("line")
    .attr("x1", d => x(d)).attr("x2", d => x(d))
    .attr("y1", yt + 7).attr("y2", i === 3 ? yb : yb - 6)
    .attr("stroke", "#333").attr("stroke-width", 1.2).attr("stroke-dasharray", "2,10");

  const cid = "clip" + i;
  defs.append("clipPath").attr("id", cid).append("rect")
    .attr("x", X0).attr("y", yt).attr("width", X1 - X0).attr("height", yb - yt);
  const lg = g.append("g").attr("clip-path", `url(#${cid})`);
  const line = d3.line().x(d => x(d[0])).y(d => p.y(d[1]));
  const order = p.series.map((s, k) => k).reverse();
  order.forEach(k => {
    lg.append("path").datum(p.series[k]).attr("d", line)
      .attr("fill", "none").attr("stroke", seriesColors[k]).attr("stroke-width", 1.1)
      .attr("stroke-linejoin", "round");
  });
  lg.append("g").attr("filter", "url(#soft)").selectAll("line").data(p.fits).join("line")
    .attr("x1", d => x(d[0])).attr("y1", d => p.y(d[1]))
    .attr("x2", d => x(d[2])).attr("y2", d => p.y(d[3]))
    .attr("stroke", "#2b2b2b").attr("stroke-opacity", 0.82).attr("stroke-width", 21)
    .attr("stroke-linecap", "butt");

  let minor;
  if (p.linear) {
    minor = d3.range(500, 2000, 100).filter(v => p.ticks.indexOf(v) < 0);
  } else {
    minor = p.y.ticks(40).filter(v => p.ticks.indexOf(v) < 0);
  }
  const ax = g.append("g").attr("transform", `translate(${X0},0)`);
  ax.call(d3.axisLeft(p.y).tickValues(minor).tickSize(10).tickFormat(""));
  const axM = g.append("g").attr("transform", `translate(${X0},0)`);
  axM.call(d3.axisLeft(p.y).tickValues(p.ticks).tickSize(20).tickPadding(8)
    .tickFormat(d => p.tickLabels ? "" : d3.format("d")(d)));
  [ax, axM].forEach(a => {
    a.select(".domain").remove();
    a.selectAll(".tick line").attr("stroke", "#444").attr("stroke-width", 1.3);
    a.selectAll(".tick text").attr("font-size", FS).attr("font-family", "Liberation Sans, Arial, sans-serif").attr("fill", "#000");
  });
  if (p.tickLabels) {
    axM.selectAll(".tick").each(function(d, j) {
      const t = d3.select(this).select("text");
      t.text(null).attr("dy", "0.32em");
      t.append("tspan").text(p.tickLabels[j][0]);
      t.append("tspan").text(p.tickLabels[j][1]).attr("font-size", 21).attr("dy", "-0.55em");
    });
  }
  g.append("line").attr("x1", X0).attr("x2", X0).attr("y1", yt).attr("y2", yb)
    .attr("stroke", "#444").attr("stroke-width", 1.5);

  const lbl = svg.append("text")
    .attr("transform", `translate(45,${p.labelY}) rotate(-90)`)
    .attr("text-anchor", "middle").attr("font-size", FS);
  p.label.forEach(([s, kind]) => {
    const ts = lbl.append("tspan").text(s);
    if (kind === 1) ts.attr("font-size", 21).attr("dy", 6);
    else if (kind === 2) ts.attr("font-size", 21).attr("dy", -12);
    else if (kind === 3) ts.attr("dy", -6);
    else if (kind === 4) ts.attr("dy", 12);
  });
});

svg.append("line").attr("x1", X0).attr("x2", 1010).attr("y1", TOP).attr("y2", TOP)
  .attr("stroke", "#444").attr("stroke-width", 1.5);

const bx = svg.append("g").attr("transform", `translate(0,${BOTTOM})`);
bx.call(d3.axisBottom(x).tickValues(hourMinorTicks).tickSize(9).tickFormat(""));
const bxM = svg.append("g").attr("transform", `translate(0,${BOTTOM})`);
bxM.call(d3.axisBottom(x).tickValues(hourTicks).tickSize(17).tickPadding(11)
  .tickFormat((d, j) => hourLabels[j]));
[bx, bxM].forEach(a => {
  a.select(".domain").remove();
  a.selectAll(".tick line").attr("stroke", "#444").attr("stroke-width", 1.3);
  a.selectAll(".tick text").attr("font-size", FS).attr("font-family", "Liberation Sans, Arial, sans-serif").attr("fill", "#000");
});
svg.append("line").attr("x1", X0).attr("x2", 1010).attr("y1", BOTTOM).attr("y2", BOTTOM)
  .attr("stroke", "#444").attr("stroke-width", 1.5);
svg.append("text").attr("x", (X0 + X1) / 2).attr("y", 1572).attr("text-anchor", "middle")
  .attr("font-size", FS).text(dateLabel);

const ev = svg.append("g");
eventArrows.forEach((t, j) => {
  const cx = x(t);
  ev.append("text").attr("x", cx).attr("y", 33).attr("text-anchor", "middle").attr("font-size", FS).text(eventLabels[j]);
  ev.append("line").attr("x1", cx).attr("x2", cx).attr("y1", 41).attr("y2", 66).attr("stroke", "#000").attr("stroke-width", 1.5);
  ev.append("path")
    .attr("d", `M${cx},${TOP} L${cx - 10.5},${TOP - 18} L${cx},${TOP - 10} L${cx + 10.5},${TOP - 18} Z`)
    .attr("fill", "#000");
});

svg.append("text").attr("x", 872).attr("y", 118).attr("font-size", FS).text("House 1");
svg.append("text").attr("x", 872).attr("y", 155).attr("font-size", FS).text("Day 1");

const leg = svg.append("g");
leg.append("rect").attr("x", 428).attr("y", 1080.5).attr("width", 194).attr("height", 118.5).attr("fill", "#bbb");
leg.append("rect").attr("x", 426).attr("y", 1078.3).attr("width", 193.8).attr("height", 118.4)
  .attr("fill", "#fff").attr("stroke", "#000").attr("stroke-width", 1.2);
const legY = [1101, 1137.3, 1173.7];
seriesNames.forEach((n, k) => {
  leg.append("line").attr("x1", 438).attr("x2", 474).attr("y1", legY[k]).attr("y2", legY[k])
    .attr("stroke", seriesColors[k]).attr("stroke-width", 1.2);
  leg.append("text").attr("x", 487).attr("y", legY[k] + 10.5).attr("font-size", 30.5).text(n);
});
</script>
</body></html>
